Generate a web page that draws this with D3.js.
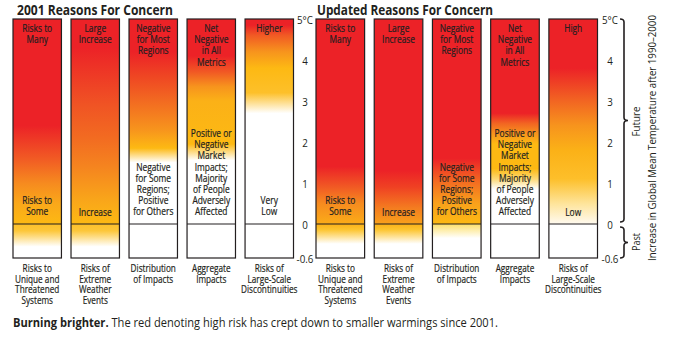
<!DOCTYPE html>
<html><head><meta charset="utf-8">
<script src="https://cdn.jsdelivr.net/npm/d3@7"></script>
<style>
body{margin:0;background:#fff;}
svg{display:block;}
text{font-family:"Open Sans",sans-serif;fill:#231f20;}
text.lab{stroke:#231f20;stroke-width:0.22px;}
</style></head>
<body>
<svg id="chart" width="674" height="337"></svg>
<script>
// ---------------- DATA ----------------
const panelTitles = ["2001 Reasons For Concern", "Updated Reasons For Concern"];
const categories = [
  ["Risks to","Unique and","Threatened","Systems"],
  ["Risks of","Extreme","Weather","Events"],
  ["Distribution","of Impacts"],
  ["Aggregate","Impacts"],
  ["Risks of","Large-Scale","Discontinuities"]
];
const topLabels2001 = [["Risks to","Many"],["Large","Increase"],["Negative","for Most","Regions"],["Net","Negative","in All","Metrics"],["Higher"]];
const topLabelsUpdated = [["Risks to","Many"],["Large","Increase"],["Negative","for Most","Regions"],["Net","Negative","in All","Metrics"],["High"]];
const lowLabels2001 = [["Risks to","Some"],["Increase"],["Negative","for Some","Regions;","Positive","for Others"],["Positive or","Negative","Market","Impacts;","Majority","of People","Adversely","Affected"],["Very","Low"]];
const lowLabelsUpdated = [["Risks to","Some"],["Increase"],["Negative","for Some","Regions;","Positive","for Others"],["Positive or","Negative","Market","Impacts;","Majority","of People","Adversely","Affected"],["Low"]];

// colour stops [temperature °C, colour] for the future (0..5) part of each bar
const future2001 = [
  [[0,"#fdb913"],[0.5,"#faa81a"],[1.0,"#f68a1f"],[1.6,"#f15a24"],[2.4,"#ec2227"],[5,"#ec2227"]],
  [[0,"#fdb913"],[0.6,"#f9a51a"],[1.4,"#f5841f"],[2.1,"#f26b21"],[2.9,"#f05424"],[4.3,"#ec2227"],[5,"#ec2227"]],
  [[1.5,"#ffffff"],[1.85,"#fdb913"],[2.3,"#f7941d"],[3.0,"#f26a21"],[3.6,"#ef4623"],[4.2,"#ec2227"],[5,"#ec2227"]],
  [[1.55,"#ffffff"],[1.95,"#fdb913"],[3.0,"#fbb117"],[3.35,"#f7941d"],[3.7,"#f15a24"],[4.1,"#ec2227"],[5,"#ec2227"]],
  [[2.7,"#ffffff"],[3.2,"#fdc02a"],[3.8,"#fdb913"],[4.2,"#f7941d"],[4.6,"#f15a24"],[4.85,"#ec2227"],[5,"#ec2227"]]
];
const past2001 = [
  [[-0.6,"#ffffff"],[-0.4,"#ffffff"],[-0.12,"#fdc73a"],[0,"#fdc02a"]],
  [[-0.6,"#ffffff"],[-0.4,"#ffffff"],[-0.12,"#fdc73a"],[0,"#fdc02a"]],
  [[-0.6,"#ffffff"],[0,"#ffffff"]],
  [[-0.6,"#ffffff"],[0,"#ffffff"]],
  [[-0.6,"#ffffff"],[0,"#ffffff"]]
];
const futureUpdated = [
  [[0,"#fbac18"],[0.5,"#f68b1f"],[0.9,"#f15a24"],[1.4,"#ec2227"],[5,"#ec2227"]],
  [[0,"#f9a11b"],[0.4,"#f47b20"],[0.9,"#ef4123"],[1.3,"#ec2227"],[5,"#ec2227"]],
  [[0,"#fdb913"],[0.5,"#f9a11b"],[1.0,"#f36f21"],[1.6,"#ec2227"],[5,"#ec2227"]],
  [[0.85,"#ffffff"],[1.1,"#fdd873"],[1.35,"#fdb913"],[1.95,"#fdb913"],[2.2,"#f7941d"],[2.45,"#f26522"],[2.7,"#ec2227"],[5,"#ec2227"]],
  [[0,"#fffaf0"],[0.5,"#fee49a"],[1.1,"#fdbf2a"],[1.8,"#fbb117"],[2.4,"#f7941d"],[3.0,"#f26522"],[3.8,"#ec2227"],[5,"#ec2227"]]
];
const pastUpdated = [
  [[-0.6,"#ffffff"],[-0.35,"#ffffff"],[-0.1,"#fdc530"],[0,"#fbb117"]],
  [[-0.6,"#ffffff"],[-0.35,"#ffffff"],[-0.1,"#fdc530"],[0,"#fbb117"]],
  [[-0.6,"#ffffff"],[-0.25,"#ffffff"],[0,"#fde06a"]],
  [[-0.6,"#ffffff"],[0,"#ffffff"]],
  [[-0.6,"#ffffff"],[0,"#ffffff"]]
];
const tickValues = [5,4,3,2,1,0,-0.6];
const tickLabels = ["5°C","4","3","2","1","0","-0.6"];
const axisTitle = "Increase in Global Mean Temperature after 1990–2000";
const captionBold = "Burning brighter.";
const captionRest = " The red denoting high risk has crept down to smaller warmings since 2001.";

// ---------------- DRAW ----------------
const svg = d3.select("#chart");
const defs = svg.append("defs");
const y = d3.scaleLinear().domain([-0.6, 0, 5]).range([258, 224, 19]);
const idx = d3.range(categories.length);
const xPanels = [
  d3.scaleBand().domain(idx).range([13, 293.5]).paddingInner(0.165),
  d3.scaleBand().domain(idx).range([316, 597.5]).paddingInner(0.165)
];
const panels = [
  {title: panelTitles[0], top: topLabels2001, low: lowLabels2001, fut: future2001, past: past2001},
  {title: panelTitles[1], top: topLabelsUpdated, low: lowLabelsUpdated, fut: futureUpdated, past: pastUpdated}
];

// horizontal factors so the label face matches the condensed face of the original
function natWidth(str, size, weight) {
  const t = svg.append("text").style("font-size", size + "px").style("font-weight", weight || 400).text(str);
  const w = t.node().getComputedTextLength(); t.remove(); return w;
}
const IN_SIZE = 10.8, BOT_SIZE = 11.4;
const SX_IN = (29 + 36 + 37) / (natWidth("Risks to", IN_SIZE) + natWidth("Negative", IN_SIZE) + natWidth("Adversely", IN_SIZE));
const SX_BOT = (40 + 49 + 42 + 32) / (natWidth("Unique and", BOT_SIZE) + natWidth("Distribution", BOT_SIZE) + natWidth("Threatened", BOT_SIZE) + natWidth("Risks of", BOT_SIZE));

function multiText(g, lines, x, y0, size, sx, lh) {
  const t = g.append("text").attr("class", "lab")
    .attr("transform", `translate(${x},${y0}) scale(${sx},1)`)
    .attr("text-anchor", "middle")
    .style("font-size", size + "px");
  lines.forEach((l, i) => t.append("tspan").attr("x", 0).attr("y", i * lh).text(l));
  return t;
}

function gradient(id, stops, t0, t1) {
  const g = defs.append("linearGradient").attr("id", id)
    .attr("gradientUnits", "userSpaceOnUse")
    .attr("x1", 0).attr("x2", 0).attr("y1", y(t1)).attr("y2", y(t0));
  const sorted = stops.slice().sort((a, b) => b[0] - a[0]);
  sorted.forEach(s => g.append("stop")
    .attr("offset", (y(s[0]) - y(t1)) / (y(t0) - y(t1)))
    .attr("stop-color", s[1]));
}

panels.forEach((p, pi) => {
  const x = xPanels[pi];
  const g = svg.append("g");
  g.append("text").attr("x", x(0) + (pi === 0 ? 4 : 1)).attr("y", 15)
    .attr("textLength", pi === 0 ? 156 : 176).attr("lengthAdjust", "spacingAndGlyphs")
    .style("font-size", "14px").style("font-weight", 700).text(p.title);
  idx.forEach(i => {
    const bx = x(i), bw = x.bandwidth(), cx = bx + bw / 2;
    gradient(`f${pi}_${i}`, p.fut[i], 0, 5);
    gradient(`p${pi}_${i}`, p.past[i], -0.6, 0);
    g.append("rect").attr("x", bx).attr("y", y(5)).attr("width", bw).attr("height", y(0) - y(5))
      .attr("fill", `url(#f${pi}_${i})`);
    g.append("rect").attr("x", bx).attr("y", y(0)).attr("width", bw).attr("height", y(-0.6) - y(0))
      .attr("fill", `url(#p${pi}_${i})`);
    g.append("rect").attr("x", bx).attr("y", y(5)).attr("width", bw).attr("height", y(-0.6) - y(5))
      .attr("fill", "none").attr("stroke", "#231f20").attr("stroke-width", 1.2);
    g.append("line").attr("x1", bx).attr("x2", bx + bw).attr("y1", y(0)).attr("y2", y(0))
      .attr("stroke", "#231f20").attr("stroke-width", 1.2);
    multiText(g, p.top[i], cx, 32, IN_SIZE, SX_IN, 11.2);
    const low = p.low[i];
    multiText(g, low, cx, 215.5 - (low.length - 1) * 11.2, IN_SIZE, SX_IN, 11.2);
    multiText(g, categories[i], cx, 272, BOT_SIZE, SX_BOT, 10.7);
  });
});

// axes
[305, 610].forEach(ax => {
  const a = svg.append("g").attr("transform", `translate(${ax},0)`)
    .call(d3.axisRight(y).tickValues(tickValues).tickFormat((d, i) => tickLabels[i]).tickSize(0))
    .call(s => s.select(".domain").remove());
  a.selectAll("text").attr("x", 0).attr("dy", "0.35em").attr("text-anchor", "middle")
    .style("font-family", "'Open Sans',sans-serif").style("font-size", "11.5px").attr("fill", "#231f20")
    .attr("transform", "scale(0.85,1)");
});

// braces
function brace(x, y1, y2, w) {
  const m = (y1 + y2) / 2, r = 3, xv = x + w / 2;
  return `M${x},${y1} Q${xv},${y1} ${xv},${y1 + r} L${xv},${m - r} Q${xv},${m} ${x + w},${m}` +
         ` Q${xv},${m} ${xv},${m + r} L${xv},${y2 - r} Q${xv},${y2} ${x},${y2}`;
}
svg.append("path").attr("d", brace(620, y(5), y(0) - 2, 8)).attr("fill", "none").attr("stroke", "#231f20").attr("stroke-width", 1.6);
svg.append("path").attr("d", brace(620, y(0) + 3, y(-0.6), 8)).attr("fill", "none").attr("stroke", "#231f20").attr("stroke-width", 1.6);

function rotText(str, cx, cy, size, len) {
  const k = len / natWidth(str, size);
  svg.append("text").attr("transform", `translate(${cx},${cy}) rotate(-90) scale(${k},1)`)
    .attr("text-anchor", "middle").style("font-size", size + "px").text(str);
}
rotText("Future", 640, (y(5) + y(0)) / 2, 11.5, 30);
rotText("Past", 640, (y(0) + y(-0.6)) / 2 + 1, 11.5, 18);
rotText(axisTitle, 656, 138, 11.5, 246);

// caption
const cap = svg.append("text").attr("x", 13).attr("y", 326.5).style("font-size", "12.5px")
  .attr("textLength", 485).attr("lengthAdjust", "spacingAndGlyphs");
cap.append("tspan").style("font-weight", 700).text(captionBold);
cap.append("tspan").text(captionRest);
</script>
</body></html>
